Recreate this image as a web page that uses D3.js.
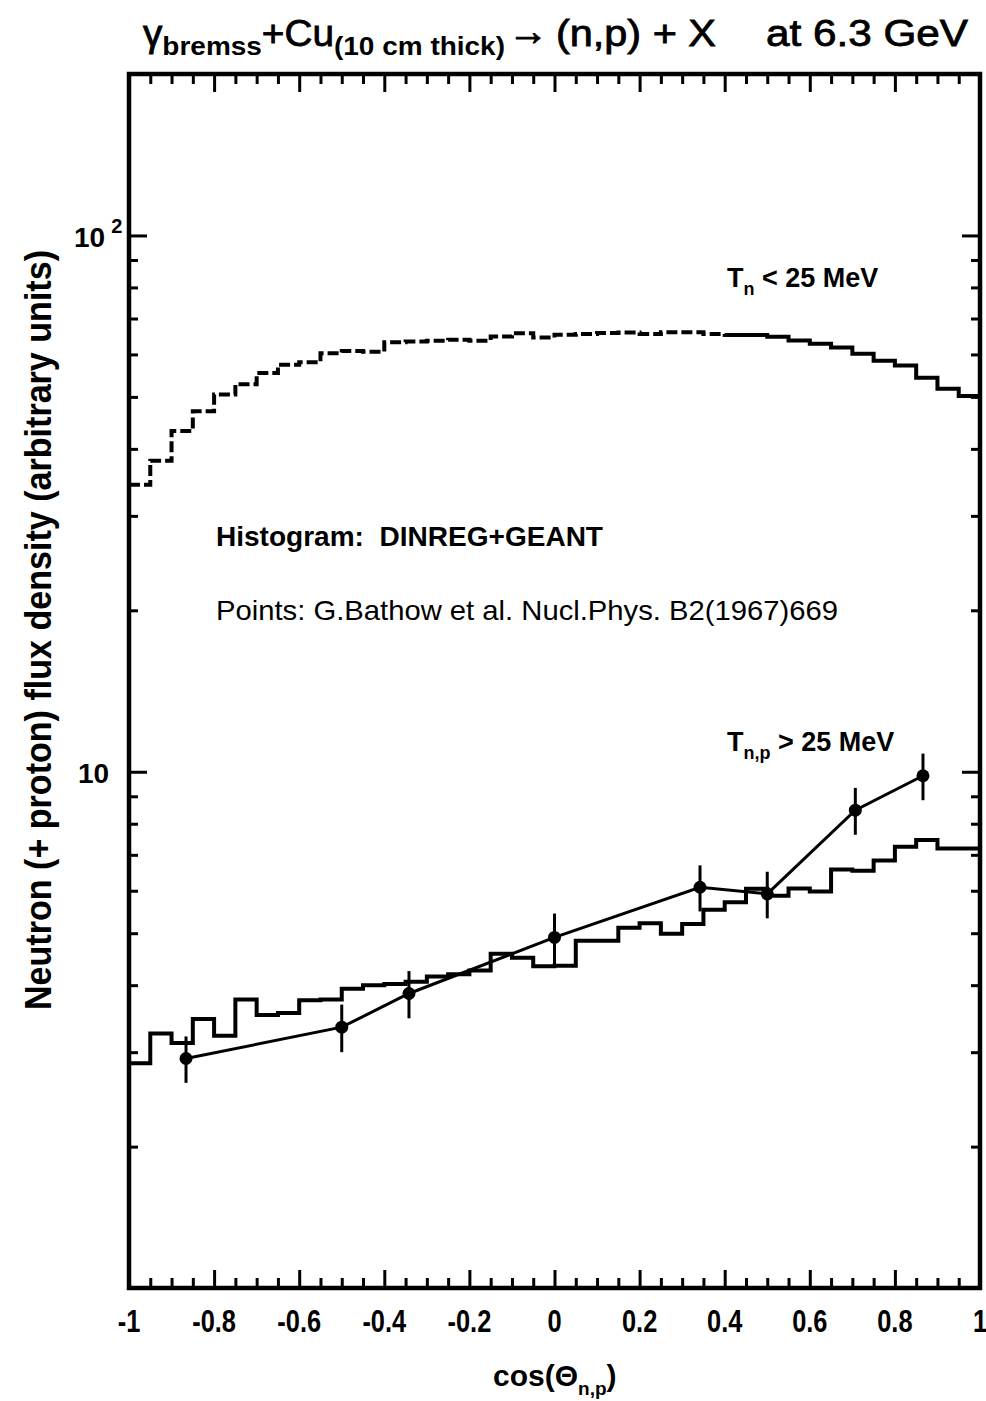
<!DOCTYPE html>
<html>
<head>
<meta charset="utf-8">
<script src="https://cdn.jsdelivr.net/npm/d3@7"></script>
<style>
body { margin: 0; background: #fff; }
svg { display: block; }
</style>
</head>
<body>
<script>
// histogram bins: 40 bins of width 0.05 from -1 to 1
var binLow = d3.range(40).map(function(i) { return -1 + i * 0.05 })

// T_n < 25 MeV (DINREG+GEANT)
var lowEnergy = [34.3, 38.0, 43.2, 47.0, 50.5, 52.8, 55.4, 57.4, 58.0, 60.3,
                 60.9, 60.7, 63.2, 63.4, 63.6, 63.9, 63.6, 64.8, 65.7, 64.5,
                 65.3, 65.5, 65.8, 65.9, 65.5, 66.0, 66.0, 65.5, 65.2, 65.2,
                 64.7, 63.7, 62.8, 61.8, 60.2, 58.4, 57.2, 54.3, 51.8, 50.2]

// T_n,p > 25 MeV (DINREG+GEANT)
var highEnergy = [2.86, 3.25, 3.12, 3.46, 3.22, 3.76, 3.52, 3.55, 3.75, 3.76,
                  3.94, 4.00, 4.02, 4.06, 4.15, 4.19, 4.26, 4.58, 4.50, 4.34,
                  4.35, 4.84, 4.84, 5.12, 5.22, 4.99, 5.20, 5.53, 5.71, 6.05,
                  5.87, 6.06, 5.98, 6.57, 6.54, 6.83, 7.25, 7.46, 7.19, 7.19]

// G.Bathow et al. points
var ptCos = [-0.866, -0.5, -0.342, 0, 0.342, 0.5, 0.707, 0.866]
var ptVal = [2.92, 3.34, 3.86, 4.91, 6.09, 5.92, 8.48, 9.83]
var ptErr = [0.29, 0.34, 0.39, 0.53, 0.60, 0.59, 0.85, 0.98]

var xMajor = [-1, -0.8, -0.6, -0.4, -0.2, 0, 0.2, 0.4, 0.6, 0.8, 1]
var xLabels = ['-1', '-0.8', '-0.6', '-0.4', '-0.2', '0', '0.2', '0.4', '0.6', '0.8', '1']
var yMajor = [10, 100]
var yMinor = [2, 3, 4, 5, 6, 7, 8, 9, 20, 30, 40, 50, 60, 70, 80, 90]

var width = 986, height = 1401
var pLeft = 129, pRight = 980, pTop = 74, pBottom = 1288

var xScale = d3.scaleLinear().domain([-1, 1]).range([pLeft, pRight])
var yScale = d3.scaleLog().domain([1.09, 200]).range([pBottom, pTop])

var svg = d3.select('body').append('svg')
    .attr('width', width)
    .attr('height', height)
    .style('font-family', '"Liberation Sans", Arial, Helvetica, sans-serif')

// ticks (all pointing inward), drawn with d3 axes
var xMinor = d3.range(41).map(function(i) { return Math.round((-1 + i * 0.05) * 100) / 100 })
    .filter(function(v) { return Math.round(v * 100) % 20 != 0 })

function cleanAxis(g) {
    g.select('.domain').remove()
    g.selectAll('line').attr('stroke', '#000').attr('stroke-width', 3)
}

svg.append('g').attr('transform', 'translate(0,' + pBottom + ')')
    .call(d3.axisTop(xScale).tickValues(xMajor).tickSize(18).tickFormat(''))
    .call(cleanAxis)
svg.append('g').attr('transform', 'translate(0,' + pBottom + ')')
    .call(d3.axisTop(xScale).tickValues(xMinor).tickSize(10).tickFormat(''))
    .call(cleanAxis)
svg.append('g').attr('transform', 'translate(0,' + pTop + ')')
    .call(d3.axisBottom(xScale).tickValues(xMajor).tickSize(18).tickFormat(''))
    .call(cleanAxis)
svg.append('g').attr('transform', 'translate(0,' + pTop + ')')
    .call(d3.axisBottom(xScale).tickValues(xMinor).tickSize(10).tickFormat(''))
    .call(cleanAxis)

svg.append('g').attr('transform', 'translate(' + pLeft + ',0)')
    .call(d3.axisRight(yScale).tickValues(yMajor).tickSize(18).tickFormat(''))
    .call(cleanAxis)
svg.append('g').attr('transform', 'translate(' + pLeft + ',0)')
    .call(d3.axisRight(yScale).tickValues(yMinor).tickSize(9).tickFormat(''))
    .call(cleanAxis)
svg.append('g').attr('transform', 'translate(' + pRight + ',0)')
    .call(d3.axisLeft(yScale).tickValues(yMajor).tickSize(18).tickFormat(''))
    .call(cleanAxis)
svg.append('g').attr('transform', 'translate(' + pRight + ',0)')
    .call(d3.axisLeft(yScale).tickValues(yMinor).tickSize(9).tickFormat(''))
    .call(cleanAxis)

// frame
svg.append('rect')
    .attr('x', pLeft).attr('y', pTop)
    .attr('width', pRight - pLeft).attr('height', pBottom - pTop)
    .attr('fill', 'none').attr('stroke', '#000').attr('stroke-width', 4.5)

// x tick labels
svg.append('g').selectAll('text')
    .data(xMajor)
    .enter().append('text')
    .attr('transform', function(d) { return 'translate(' + xScale(d) + ',1332) scale(0.82,1)' })
    .attr('text-anchor', 'middle')
    .attr('font-size', '31px')
    .attr('font-weight', 'bold')
    .text(function(d, i) { return xLabels[i] })

// y tick labels
var y100 = svg.append('text')
    .attr('x', 74).attr('y', yScale(100) + 12)
    .attr('font-size', '28px').attr('font-weight', 'bold')
y100.append('tspan').text('10')
y100.append('tspan').attr('dx', 6).attr('dy', -14).attr('font-size', '20px').text('2')

svg.append('text')
    .attr('x', 78).attr('y', yScale(10) + 11)
    .attr('font-size', '28px').attr('font-weight', 'bold')
    .text('10')

var line = d3.line()
    .x(function(d) { return xScale(d[0]) })
    .y(function(d) { return yScale(d[1]) })
    .curve(d3.curveStepAfter)

function stepPoints(vals, from, to) {
    var pts = []
    for (var i = from; i < to; i++) pts.push([binLow[i], vals[i]])
    pts.push([binLow[to - 1] + 0.05, vals[to - 1]])
    return pts
}

var plot = svg.append('g')

// low-energy histogram: dashed on the left part, solid afterwards
var split = 28
plot.append('path')
    .datum(stepPoints(lowEnergy, 0, split))
    .attr('d', line)
    .attr('fill', 'none').attr('stroke', '#000').attr('stroke-width', 4)
    .attr('stroke-dasharray', '11,4')
plot.append('path')
    .datum([[binLow[split], lowEnergy[split - 1]]].concat(stepPoints(lowEnergy, split, 40)))
    .attr('d', line)
    .attr('fill', 'none').attr('stroke', '#000').attr('stroke-width', 4)

// high-energy histogram
plot.append('path')
    .datum(stepPoints(highEnergy, 0, 40))
    .attr('d', line)
    .attr('fill', 'none').attr('stroke', '#000').attr('stroke-width', 4)

// data points
var pts = ptCos.map(function(c, i) { return {x: c, y: ptVal[i], e: ptErr[i]} })

plot.append('path')
    .datum(pts)
    .attr('d', d3.line()
        .x(function(d) { return xScale(d.x) })
        .y(function(d) { return yScale(d.y) }))
    .attr('fill', 'none').attr('stroke', '#000').attr('stroke-width', 3)

plot.selectAll('.err')
    .data(pts)
    .enter().append('line')
    .attr('class', 'err')
    .attr('x1', function(d) { return xScale(d.x) })
    .attr('x2', function(d) { return xScale(d.x) })
    .attr('y1', function(d) { return yScale(d.y - d.e) })
    .attr('y2', function(d) { return yScale(d.y + d.e) })
    .attr('stroke', '#000').attr('stroke-width', 3)

plot.selectAll('.dot')
    .data(pts)
    .enter().append('circle')
    .attr('class', 'dot')
    .attr('cx', function(d) { return xScale(d.x) })
    .attr('cy', function(d) { return yScale(d.y) })
    .attr('r', 6.5)
    .attr('fill', '#000')

// title, in pieces so the gaps match
var titleA = svg.append('text')
    .attr('x', 143).attr('y', 46)
    .attr('font-size', '36px')
    .attr('stroke', '#000').attr('stroke-width', 0.8)
    .attr('textLength', 362).attr('lengthAdjust', 'spacingAndGlyphs')
titleA.append('tspan').text('\u03b3')
titleA.append('tspan').attr('dy', 9).attr('font-size', '26px').attr('font-weight', 'bold').attr('stroke-width', 0).text('bremss')
titleA.append('tspan').attr('dy', -9).text('+Cu')
titleA.append('tspan').attr('dy', 9).attr('font-size', '26px').attr('font-weight', 'bold').attr('stroke-width', 0).text('(10 cm thick)')

svg.append('text')
    .attr('x', 508).attr('y', 45)
    .attr('font-size', '40px')
    .attr('stroke', '#000').attr('stroke-width', 1)
    .attr('textLength', 40).attr('lengthAdjust', 'spacingAndGlyphs')
    .text('\u2192')

svg.append('text')
    .attr('x', 556).attr('y', 46)
    .attr('font-size', '36px')
    .attr('stroke', '#000').attr('stroke-width', 0.8)
    .attr('textLength', 160).attr('lengthAdjust', 'spacingAndGlyphs')
    .text('(n,p) + X')

svg.append('text')
    .attr('x', 766).attr('y', 46)
    .attr('font-size', '36px')
    .attr('stroke', '#000').attr('stroke-width', 0.8)
    .attr('textLength', 202).attr('lengthAdjust', 'spacingAndGlyphs')
    .text('at 6.3 GeV')

// annotations
var t1 = svg.append('text')
    .attr('x', 727).attr('y', 287)
    .attr('font-size', '27px').attr('font-weight', 'bold')
t1.append('tspan').text('T')
t1.append('tspan').attr('dy', 8).attr('font-size', '18px').text('n')
t1.append('tspan').attr('dy', -8).text(' < 25 MeV')

var t2 = svg.append('text')
    .attr('x', 727).attr('y', 751)
    .attr('font-size', '27px').attr('font-weight', 'bold')
t2.append('tspan').text('T')
t2.append('tspan').attr('dy', 8).attr('font-size', '18px').text('n,p')
t2.append('tspan').attr('dy', -8).text(' > 25 MeV')

svg.append('text')
    .attr('x', 216).attr('y', 546)
    .attr('font-size', '28px').attr('font-weight', 'bold')
    .attr('textLength', 387).attr('lengthAdjust', 'spacingAndGlyphs')
    .text('Histogram:\u00a0\u00a0DINREG+GEANT')

svg.append('text')
    .attr('x', 216).attr('y', 620)
    .attr('font-size', '28px')
    .attr('textLength', 622).attr('lengthAdjust', 'spacingAndGlyphs')
    .text('Points: G.Bathow et al. Nucl.Phys. B2(1967)669')

// axis titles
var xt = svg.append('text')
    .attr('x', 493).attr('y', 1386)
    .attr('font-size', '30px').attr('font-weight', 'bold')
xt.append('tspan').text('cos(\u0398')
xt.append('tspan').attr('dy', 9).attr('font-size', '19px').text('n,p')
xt.append('tspan').attr('dy', -9).text(')')

svg.append('text')
    .attr('transform', 'translate(51,630) rotate(-90)')
    .attr('text-anchor', 'middle')
    .attr('font-size', '37px').attr('font-weight', 'bold')
    .attr('textLength', 760).attr('lengthAdjust', 'spacingAndGlyphs')
    .text('Neutron (+ proton) flux density (arbitrary units)')
</script>
</body>
</html>
